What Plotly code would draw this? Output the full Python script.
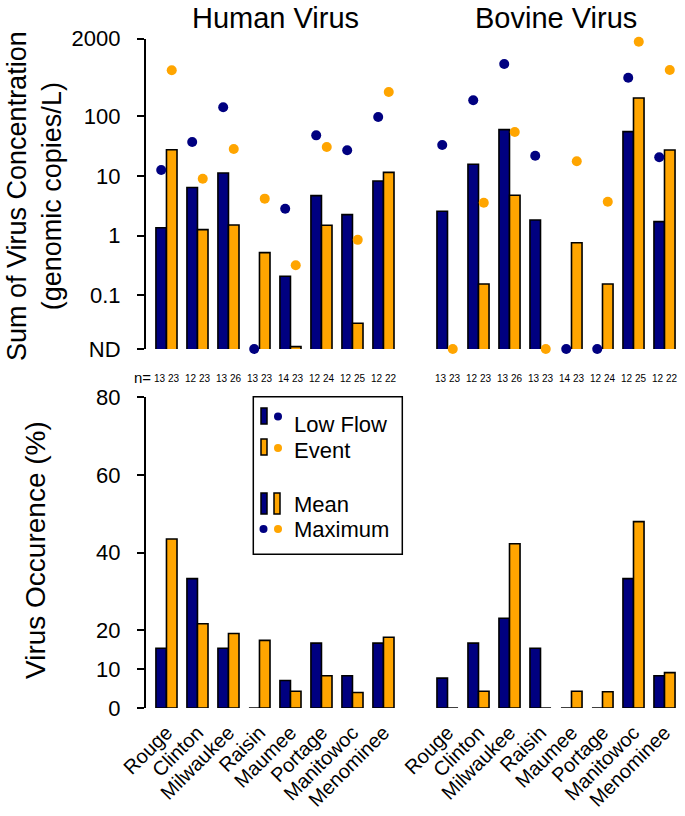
import math
import plotly.graph_objects as go

# ---------------- data ----------------
sites = ["Rouge", "Clinton", "Milwaukee", "Raisin", "Maumee", "Portage", "Manitowoc", "Menominee"]
n_low = [13, 12, 13, 13, 14, 12, 12, 12]
n_event = [23, 23, 26, 23, 23, 24, 25, 22]

# concentrations (genomic copies/L); 0 means ND (not detected)
human_mean_low = [1.36, 6.4, 11.2, 0, 0.209, 4.68, 2.25, 8.26]
human_mean_event = [27.6, 1.26, 1.51, 0.52, 0.0138, 1.49, 0.034, 11.5]
human_max_low = [12.6, 37.2, 142, 0, 2.83, 48, 27, 97.5]
human_max_event = [591, 9.0, 28.4, 4.17, 0.319, 30.6, 0.85, 256]
bovine_mean_low = [2.56, 15.7, 59.8, 1.83, 0, 0, 55.3, 1.72]
bovine_mean_event = [0, 0.155, 4.75, 0, 0.76, 0.155, 203, 27.3]
bovine_max_low = [33.1, 186, 754, 21.9, 0, 0, 444, 20.6]
bovine_max_event = [0, 3.57, 54.7, 0, 17.7, 3.71, 1783, 598]

# occurrence (%)
human_occ_low = [15.4, 33.3, 15.4, 0, 7.1, 16.7, 8.3, 16.7]
human_occ_event = [43.5, 21.7, 19.2, 17.4, 4.3, 8.3, 4.0, 18.2]
bovine_occ_low = [7.7, 16.7, 23.1, 15.4, 0, 0, 33.3, 8.3]
bovine_occ_event = [0, 4.3, 42.3, 0, 4.3, 4.2, 48.0, 9.1]

conc_tick_text = ["ND", "0.1", "1", "10", "100", "2000"]
occ_tick_vals = [0, 10, 20, 40, 60, 80]

ND_LEVEL = 10 ** -1.9
conc_tick_vals = [ND_LEVEL, 0.1, 1, 10, 100, 2000]

BLUE = "#000080"
ORANGE = "#FFA500"
FONT = "Arial, Liberation Sans, sans-serif"

W, H = 685, 816


def px(x):
    return x / W


def py(y):
    return 1 - y / H


def bar_vals(v):
    return [val if val > 0 else None for val in v]


def dot_vals(v):
    return [val if val > 0 else ND_LEVEL for val in v]


fig = go.Figure()

panels = [
    ("x", "y", human_mean_low, human_mean_event, human_max_low, human_max_event),
    ("x2", "y2", bovine_mean_low, bovine_mean_event, bovine_max_low, bovine_max_event),
]
for xa, ya, ml, me, xl, xe in panels:
    fig.add_trace(go.Bar(x=sites, y=bar_vals(ml), xaxis=xa, yaxis=ya, offsetgroup="lf",
                         marker=dict(color=BLUE, line=dict(color="black", width=1.6)), showlegend=False))
    fig.add_trace(go.Bar(x=sites, y=bar_vals(me), xaxis=xa, yaxis=ya, offsetgroup="ev",
                         marker=dict(color=ORANGE, line=dict(color="black", width=1.6)), showlegend=False))
    fig.add_trace(go.Scatter(x=sites, y=dot_vals(xl), xaxis=xa, yaxis=ya, mode="markers",
                             offsetgroup="lf", cliponaxis=False,
                             marker=dict(color=BLUE, size=10), showlegend=False))
    fig.add_trace(go.Scatter(x=sites, y=dot_vals(xe), xaxis=xa, yaxis=ya, mode="markers",
                             offsetgroup="ev", cliponaxis=False,
                             marker=dict(color=ORANGE, size=10), showlegend=False))

for xa, ya, ol, oe in [("x3", "y3", human_occ_low, human_occ_event),
                       ("x4", "y4", bovine_occ_low, bovine_occ_event)]:
    fig.add_trace(go.Bar(x=sites, y=ol, xaxis=xa, yaxis=ya, offsetgroup="lf",
                         marker=dict(color=BLUE, line=dict(color="black", width=1.6)), showlegend=False))
    fig.add_trace(go.Bar(x=sites, y=oe, xaxis=xa, yaxis=ya, offsetgroup="ev",
                         marker=dict(color=ORANGE, line=dict(color="black", width=1.6)), showlegend=False))

top_dom = [py(349), py(38.7)]
bot_dom = [py(708), py(397.3)]
hum_dom = [px(145.7), px(145.7 + 31 * 8.17)]
bov_dom = [px(432), px(680)]
hum_range = [-0.67, 7.5]
bov_range = [-0.5, 7.5]

yaxis_common = dict(showline=True, linecolor="black", linewidth=1.5, ticks="outside", ticklen=7,
                    tickwidth=1.5, tickcolor="black", showgrid=False, zeroline=False, automargin=False,
                    tickfont=dict(size=22, color="black"), ticklabelstandoff=12)
xaxis_common = dict(showline=False, showgrid=False, zeroline=False, automargin=False, ticks="")

fig.update_layout(
    width=W, height=H, margin=dict(l=0, r=0, t=0, b=0, pad=0, autoexpand=False),
    autosize=False,
    paper_bgcolor="white", plot_bgcolor="white",
    font=dict(family=FONT, color="black"),
    barmode="group", bargap=0.32, bargroupgap=0, scattermode="group", scattergap=0.32,
    xaxis=dict(domain=hum_dom, range=hum_range, anchor="y", showticklabels=False, **xaxis_common),
    xaxis2=dict(domain=bov_dom, range=bov_range, anchor="y2", showticklabels=False, **xaxis_common),
    xaxis3=dict(domain=hum_dom, range=hum_range, anchor="y3", tickangle=-45, ticklabelstandoff=8,
                tickfont=dict(size=20, color="black"), **xaxis_common),
    xaxis4=dict(domain=bov_dom, range=bov_range, anchor="y4", tickangle=-45, ticklabelstandoff=8,
                tickfont=dict(size=20, color="black"), **xaxis_common),
    yaxis=dict(domain=top_dom, type="log", range=[math.log10(ND_LEVEL), math.log10(2000)],
               anchor="x", tickvals=conc_tick_vals, ticktext=conc_tick_text, **yaxis_common),
    yaxis2=dict(domain=top_dom, type="log", range=[math.log10(ND_LEVEL), math.log10(2000)],
                anchor="x2", visible=False),
    yaxis3=dict(domain=bot_dom, range=[0, 80], anchor="x3", tickvals=occ_tick_vals, **yaxis_common),
    yaxis4=dict(domain=bot_dom, range=[0, 80], anchor="x4", visible=False),
)

ann = []
# panel titles
ann.append(dict(text="Human Virus", x=px(275), y=1, xref="paper", yref="paper",
                xanchor="center", yanchor="top", showarrow=False, font=dict(size=29)))
ann.append(dict(text="Bovine Virus", x=px(556), y=1, xref="paper", yref="paper",
                xanchor="center", yanchor="top", showarrow=False, font=dict(size=29)))
# axis titles
ann.append(dict(text="Sum of Virus Concentration<br>(genomic copies/L)", x=px(34), y=py(196),
                xref="paper", yref="paper", xanchor="center", yanchor="middle",
                showarrow=False, textangle=-90, font=dict(size=27)))
ann.append(dict(text="Virus Occurence (%)", x=px(35), y=py(550), xref="paper", yref="paper",
                xanchor="center", yanchor="middle",
                showarrow=False, textangle=-90, font=dict(size=28)))
# sample sizes
ann.append(dict(text="n=", x=px(153), y=py(377), xref="paper", yref="paper", xanchor="right",
                yanchor="middle", showarrow=False, font=dict(size=15)))
for xa in ["x", "x2"]:
    for s, a, b in zip(sites, n_low, n_event):
        ann.append(dict(text=f"{a} {b}", x=s, y=py(378), xref=xa, yref="paper",
                        xanchor="center", yanchor="middle", showarrow=False, font=dict(size=10)))

# legend (drawn manually)
shapes = [dict(type="rect", xref="paper", yref="paper", x0=px(253.3), x1=px(402.3),
               y0=py(554.3), y1=py(396.7), line=dict(color="black", width=1.5))]


def lrect(x0, x1, y0, y1, color):
    shapes.append(dict(type="rect", xref="paper", yref="paper", x0=px(x0), x1=px(x1),
                       y0=py(y1), y1=py(y0), fillcolor=color, line=dict(color="black", width=1.5)))


def ldot(cx, cy, color, r=4):
    shapes.append(dict(type="circle", xref="paper", yref="paper", x0=px(cx - r), x1=px(cx + r),
                       y0=py(cy + r), y1=py(cy - r), fillcolor=color, line=dict(width=0)))


lrect(261, 267, 408, 424, BLUE)
ldot(278, 416.5, BLUE)
lrect(261, 267, 439, 455, ORANGE)
ldot(278, 448, ORANGE)
lrect(261, 267, 493, 514, BLUE)
lrect(274, 280, 493, 514, ORANGE)
ldot(263.5, 529, BLUE)
ldot(278, 529, ORANGE)

for txt, yc in [("Low Flow", 424), ("Event", 450), ("Mean", 504), ("Maximum", 529)]:
    ann.append(dict(text=txt, x=px(292), y=py(yc), xref="paper", yref="paper", xanchor="left",
                    yanchor="middle", showarrow=False, font=dict(size=22)))

fig.update_layout(annotations=ann, shapes=shapes)
fig.write_html("out.html", config={"displayModeBar": False},
               post_script="document.body.style.margin='0';")
